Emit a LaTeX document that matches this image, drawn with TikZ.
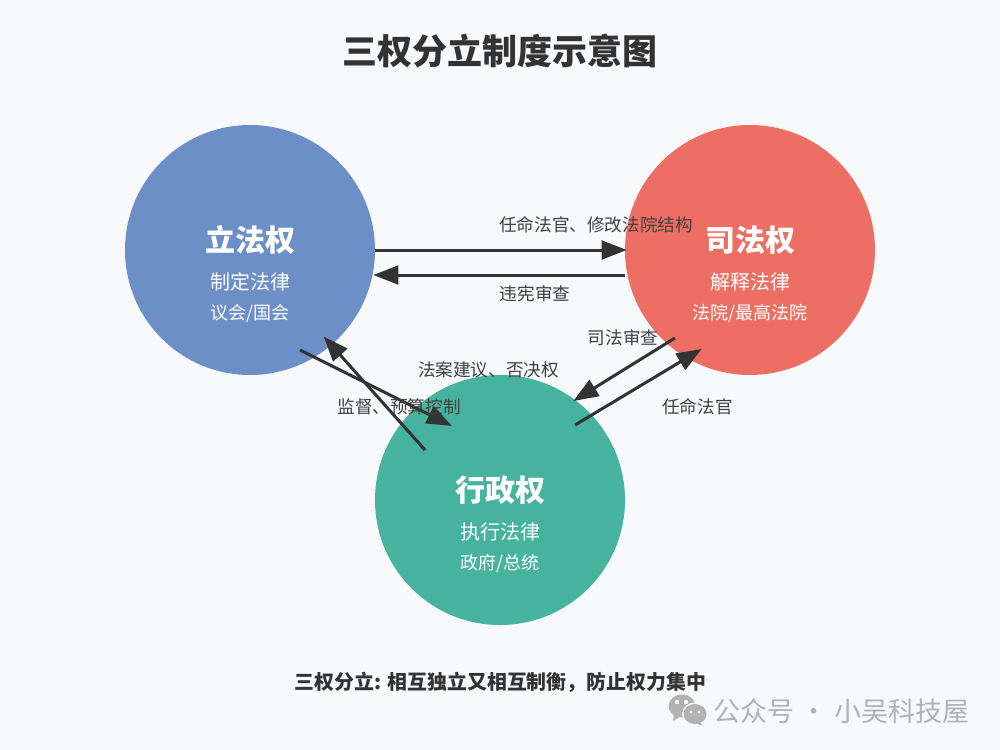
\documentclass[tikz,border=0pt]{standalone}
\usepackage{fontspec}
\setmainfont{Noto Sans CJK SC}
\usetikzlibrary{arrows.meta}
\definecolor{bgc}{HTML}{F8F9FB}
\definecolor{bluec}{HTML}{6C8FC7}
\definecolor{redc}{HTML}{ED6F63}
\definecolor{greenc}{HTML}{45B39D}
\definecolor{ink}{HTML}{333333}
\definecolor{lblink}{HTML}{404040}
\definecolor{wm}{HTML}{B2B2B2}
\newcommand{\fpx}[1]{\fontsize{\the\dimexpr #1pt*3/4\relax}{\the\dimexpr #1pt*9/10\relax}\selectfont}
\tikzset{
  x=0.75pt,y=-0.75pt,
  power/.style={circle,minimum size=187.5pt,inner sep=0pt,draw=none},
  head/.style={inner sep=0pt,text=white,font=\fpx{30}\bfseries},
  sub/.style={inner sep=0pt,text=white,font=\fpx{20}},
  subb/.style={inner sep=0pt,text=white,font=\fpx{18}},
  lbl/.style={inner sep=0pt,text=lblink,font=\fpx{17.6}},
  conn/.style={draw=ink,line width=2.25pt,shorten >=-1.5pt,-{Triangle[length=18.75pt,width=14pt]}},
}
\begin{document}
\begin{tikzpicture}
\fill[bgc] (0,0) rectangle (1000,750);
\useasboundingbox (0,0) rectangle (1000,750);
\node[power,fill=bluec] (lf) at (250,250) {};
\node[power,fill=redc] (sf) at (750,250) {};
\node[power,fill=greenc] (xz) at (500,500) {};
\node[inner sep=0pt,text=ink,font=\fpx{35}\bfseries] (title) at (500,51) {三权分立制度示意图};
\node[head] (lf1) at (250,240) {立法权};
\node[sub] (lf2) at (250,282) {制定法律};
\node[subb] (lf3) at (250,313.5) {议会/国会};
\node[head] (sf1) at (750,240) {司法权};
\node[sub] (sf2) at (750,282) {解释法律};
\node[subb] (sf3) at (750,313.5) {法院/最高法院};
\node[head] (xz1) at (500,490) {行政权};
\node[sub] (xz2) at (500,532) {执行法律};
\node[subb] (xz3) at (500,563.5) {政府/总统};
\draw[conn] (lf.east) -- (sf.west);
\draw[conn] ([shift={(0,25)}]sf.west) -- ([shift={(0,25)}]lf.east);
\draw[conn] ([shift={(-75,88)}]sf.center) -- ([shift={(75,-100)}]xz.center);
\draw[conn] ([shift={(75,-75)}]xz.center) -- ([shift={(-50,100)}]sf.center);
\draw[conn] ([shift={(50,100)}]lf.center) -- ([shift={(-50,-75)}]xz.center);
\draw[conn] ([shift={(-75,-50)}]xz.center) -- ([shift={(75,88)}]lf.center);
\node[lbl] (e1) at (596,225) {任命法官、修改法院结构};
\node[lbl] (e2) at (535,294) {违宪审查};
\node[lbl] (e3) at (623,338) {司法审查};
\node[lbl] (e4) at (488.5,370) {法案建议、否决权};
\node[lbl] (e5) at (399,407) {监督、预算控制};
\node[lbl] (e6) at (697.5,407) {任命法官};
\node[inner sep=0pt,text=ink,font=\fpx{19.9}\bfseries] (foot) at (500.5,682) {三权分立: 相互独立又相互制衡，防止权力集中};
% watermark icon
\fill[wm] (682,706) ellipse [x radius=13.5,y radius=11.5];
\fill[wm] (674,714) -- (673,721) -- (681,716) -- cycle;
\fill[bgc] (695,714) ellipse [x radius=13,y radius=11.5];
\fill[wm] (695,714) ellipse [x radius=11.5,y radius=10];
\fill[wm] (700,721) -- (702,725.5) -- (694,723) -- cycle;
\fill[bgc] (677,702) circle (2.2) (686,702) circle (2.2) (691,712) circle (1.7) (699,712) circle (1.7);
\node[inner sep=0pt,text=wm,font=\fpx{27}] (mark) at (841.5,711) {公众号 · 小吴科技屋};
\end{tikzpicture}
\end{document}
